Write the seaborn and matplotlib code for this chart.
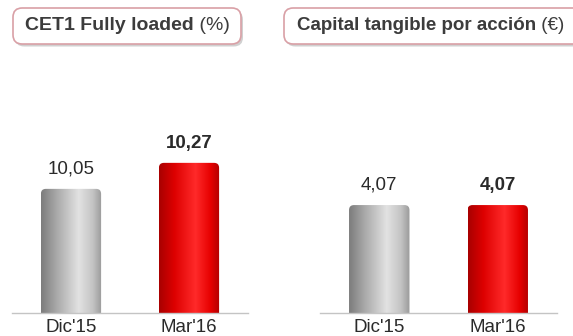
import numpy as np
import pandas as pd
import seaborn as sns
import matplotlib
matplotlib.use("Agg")
import matplotlib.pyplot as plt
from matplotlib.patches import FancyBboxPatch
from matplotlib.colors import LinearSegmentedColormap

# ---- data ----
categories = ["Dic'15", "Mar'16"]
cet1_values = [10.05, 10.27]
cet1_labels = ["10,05", "10,27"]
tbv_values = [4.07, 4.07]
tbv_labels = ["4,07", "4,07"]
title_left_bold = "CET1 Fully loaded"
title_left_reg = " (%)"
title_right_bold = "Capital tangible por acción"
title_right_reg = " (€)"

sns.set_theme(style="white")
plt.rcParams['font.family'] = ['Liberation Sans', 'DejaVu Sans']

W, H = 573, 336
fig = plt.figure(figsize=(W / 100, H / 100), dpi=100)
fig.patch.set_facecolor("white")

gray_cmap = LinearSegmentedColormap.from_list(
    "g", [(0, "#7c7c7c"), (0.25, "#a8a8a8"), (0.62, "#e2e2e2"), (0.85, "#c4c4c4"), (1, "#9a9a9a")])
red_cmap = LinearSegmentedColormap.from_list(
    "r", [(0, "#a80000"), (0.25, "#dd0000"), (0.6, "#ff2a2a"), (0.85, "#e60000"), (1, "#b00000")])
cmaps = [gray_cmap, red_cmap]
grad = np.linspace(0, 1, 256).reshape(1, -1)


def panel(rect, values, labels, ylim):
    ax = fig.add_axes(rect)
    df = pd.DataFrame({"cat": categories, "val": values})
    sns.barplot(data=df, x="cat", y="val", ax=ax, width=0.51,
                palette=["#b0b0b0", "#e00000"], hue="cat", legend=False,
                saturation=1)
    ax.set_ylim(*ylim)
    ax.set_xlim(-0.5, 1.5)
    wpx = rect[2] * W
    hpx = rect[3] * H
    xpp = 2.0 / wpx
    ypp = (ylim[1] - ylim[0]) / hpx
    for i, p in enumerate(ax.patches):
        x0 = p.get_x()
        w, h = p.get_width(), p.get_height()
        top = p.get_y() + h
        p.set_alpha(0)
        bottom = ylim[0] - 20 * ypp
        clip = FancyBboxPatch((x0, bottom), w, top - bottom,
                              boxstyle=f"round,pad=0,rounding_size={5 * xpp}",
                              mutation_aspect=ypp / xpp,
                              transform=ax.transData, facecolor="none", edgecolor="none")
        ax.add_patch(clip)
        im = ax.imshow(grad, cmap=cmaps[i], aspect="auto",
                       extent=(x0, x0 + w, ylim[0], top), zorder=2)
        im.set_clip_path(clip)
        weight = "bold" if i == 1 else "normal"
        ax.annotate(labels[i], (x0 + w / 2, top), xytext=(0, 8),
                    textcoords="offset points", ha="center", va="bottom",
                    fontsize=13.5, fontweight=weight, color="#2a2a2a")
    ax.set_xlabel("")
    ax.set_ylabel("")
    ax.set_yticks([])
    for s in ["top", "right", "left"]:
        ax.spines[s].set_visible(False)
    ax.spines["bottom"].set_color("#c4c4c4")
    ax.spines["bottom"].set_linewidth(1.0)
    ax.spines["bottom"].set_zorder(3)
    ax.tick_params(axis="x", length=0, pad=4, labelsize=13.5, labelcolor="#2a2a2a")
    ax.set_xticks([0.5], minor=True)
    ax.tick_params(axis="x", which="minor", length=3, direction="inout",
                   color="#c4c4c4", width=1)
    ax.patch.set_alpha(0)
    return ax


ax1 = panel([12 / W, 23 / H, 236 / W, 253 / H], cet1_values, cet1_labels, (9.0, 11.14))
ax2 = panel([320 / W, 23 / H, 237 / W, 253 / H], tbv_values, tbv_labels, (0.0, 9.54))


def title_box(x0, x1, y0, y1, tx, bold, reg, fs):
    sh = FancyBboxPatch((x0 / W + 2 / W, 1 - y1 / H - 2.5 / H), (x1 - x0) / W, (y1 - y0) / H,
                        boxstyle="round,pad=0,rounding_size=0.016", transform=fig.transFigure,
                        mutation_aspect=W / H,
                        facecolor="#bdbdbd", edgecolor="none", alpha=0.7, zorder=1)
    fig.add_artist(sh)
    bx = FancyBboxPatch((x0 / W, 1 - y1 / H), (x1 - x0) / W, (y1 - y0) / H,
                        boxstyle="round,pad=0,rounding_size=0.016", transform=fig.transFigure,
                        mutation_aspect=W / H,
                        facecolor="white", edgecolor="#d9a0a6", linewidth=1.2, zorder=2)
    fig.add_artist(bx)
    yc = 1 - (y0 + y1) / 2 / H
    t1 = fig.text(tx / W, yc, bold, fontsize=fs, fontweight="bold", color="#3c3c3c",
                  ha="left", va="center", zorder=3)
    fig.canvas.draw()
    bb = t1.get_window_extent()
    fig.text(bb.x1 / W, yc, reg, fontsize=fs, color="#3c3c3c",
             ha="left", va="center", zorder=3)


title_box(13, 241, 8, 44, 25, title_left_bold, title_left_reg, 14)
title_box(284, 600, 8, 44, 297, title_right_bold, title_right_reg, 13.5)

fig.savefig("out.png", dpi=100, facecolor="white")
